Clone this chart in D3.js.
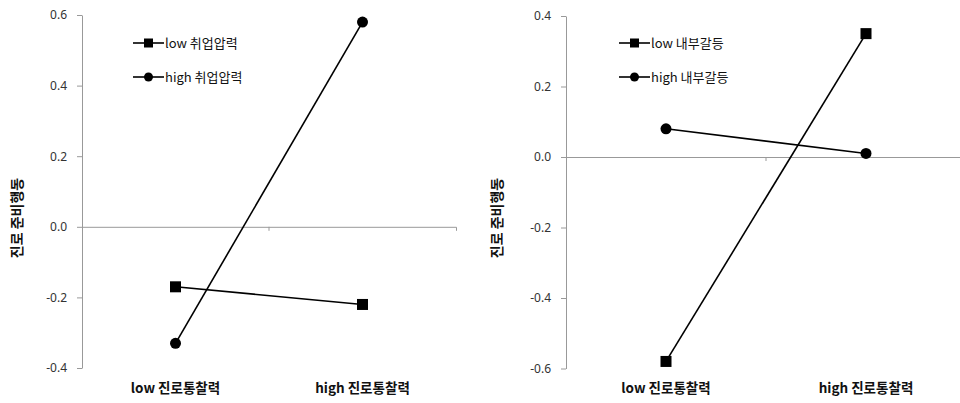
<!DOCTYPE html>
<html>
<head>
<meta charset="utf-8">
<script src="https://cdnjs.cloudflare.com/ajax/libs/d3/7.8.5/d3.min.js"></script>
<style>
  body { margin: 0; background: #fff; }
  svg text { font-family: "Noto Sans CJK KR", "Noto Sans", sans-serif; }
</style>
</head>
<body>
<div id="chart"></div>
<script>
// data
var categories = ["low 진로통찰력", "high 진로통찰력"];
var yLabel = "진로 준비행동";

var left_series = ["low 취업압력", "high 취업압력"];
var left_low = [-0.17, -0.22];
var left_high = [-0.33, 0.58];
var left_ticks = [-0.4, -0.2, 0.0, 0.2, 0.4, 0.6];

var right_series = ["low 내부갈등", "high 내부갈등"];
var right_low = [-0.58, 0.35];
var right_high = [0.08, 0.01];
var right_ticks = [-0.6, -0.4, -0.2, 0.0, 0.2, 0.4];

var svg = d3.select("#chart").append("svg")
  .attr("width", 960)
  .attr("height", 403);

function panel(opt) {
  var g = svg.append("g");

  var x = d3.scaleBand()
    .domain(categories)
    .range([opt.x0, opt.x1]);

  var y = d3.scaleLinear()
    .domain(d3.extent(opt.ticks))
    .range([opt.yBottom, opt.yTop]);

  // y axis
  var yAxis = g.append("g")
    .attr("transform", "translate(" + opt.x0 + ",0)")
    .call(d3.axisLeft(y).tickValues(opt.ticks).tickSize(5).tickSizeOuter(0));
  yAxis.select(".domain").attr("stroke", "#999");
  yAxis.selectAll(".tick line").attr("stroke", "#999");
  yAxis.selectAll(".tick text")
    .attr("x", -15)
    .attr("fill", "#333")
    .style("font-size", "12px")
    .style("font-family", "Noto Sans, sans-serif")
    .text(function (d) { return d3.format(".1f")(d).replace("−", "-"); });

  // zero line with category tick
  var xAxis = g.append("g")
    .attr("transform", "translate(0," + y(0) + ")")
    .call(d3.axisBottom(x).tickSize(4).tickSizeOuter(4).tickFormat(""));
  xAxis.select(".domain").attr("stroke", "#999");
  xAxis.selectAll(".tick line").remove();
  xAxis.append("line")
    .attr("x1", opt.x0 + (opt.x1 - opt.x0) / 2)
    .attr("x2", opt.x0 + (opt.x1 - opt.x0) / 2)
    .attr("y1", 0).attr("y2", 4)
    .attr("stroke", "#999");

  // category labels
  g.selectAll(".cat")
    .data(categories)
    .enter().append("text")
    .attr("x", function (d) { return x(d) + x.bandwidth() / 2; })
    .attr("y", 393)
    .attr("text-anchor", "middle")
    .attr("fill", "#111")
    .style("font-size", "13.5px")
    .style("font-weight", "bold")
    .text(function (d) { return d; });

  // y label
  g.append("text")
    .attr("transform", "translate(" + opt.labelX + ",218) rotate(-90)")
    .attr("text-anchor", "middle")
    .attr("fill", "#111")
    .style("font-size", "14px")
    .style("font-weight", "bold")
    .text(yLabel);

  var line = d3.line()
    .x(function (d, i) { return x(categories[i]) + x.bandwidth() / 2; })
    .y(function (d) { return y(d); });

  [opt.low, opt.high].forEach(function (vals, s) {
    g.append("path")
      .datum(vals)
      .attr("d", line)
      .attr("fill", "none")
      .attr("stroke", "#000")
      .attr("stroke-width", 1.6);

    if (s === 0) {
      g.selectAll(".sq" + s)
        .data(vals)
        .enter().append("rect")
        .attr("x", function (d, i) { return x(categories[i]) + x.bandwidth() / 2 - 5.5; })
        .attr("y", function (d) { return y(d) - 5.5; })
        .attr("width", 11).attr("height", 11)
        .attr("fill", "#000");
    } else {
      g.selectAll(".ci" + s)
        .data(vals)
        .enter().append("circle")
        .attr("cx", function (d, i) { return x(categories[i]) + x.bandwidth() / 2; })
        .attr("cy", function (d) { return y(d); })
        .attr("r", 5.5)
        .attr("fill", "#000");
    }
  });

  // legend
  opt.series.forEach(function (name, s) {
    var ly = opt.legY + s * 34;
    g.append("line")
      .attr("x1", opt.legX).attr("x2", opt.legX + 31)
      .attr("y1", ly).attr("y2", ly)
      .attr("stroke", "#000").attr("stroke-width", 1.6);
    if (s === 0) {
      g.append("rect")
        .attr("x", opt.legX + 15.5 - 4.5).attr("y", ly - 4.5)
        .attr("width", 9).attr("height", 9).attr("fill", "#000");
    } else {
      g.append("circle")
        .attr("cx", opt.legX + 15.5).attr("cy", ly)
        .attr("r", 4.5).attr("fill", "#000");
    }
    g.append("text")
      .attr("x", opt.legX + 32)
      .attr("y", ly)
      .attr("dy", "0.35em")
      .attr("fill", "#111")
      .style("font-size", "13px")
      .text(name);
  });
}

panel({
  x0: 82, x1: 456, yTop: 15, yBottom: 368, labelX: 22,
  ticks: left_ticks, low: left_low, high: left_high, series: left_series,
  legX: 133, legY: 43
});

panel({
  x0: 566, x1: 966, yTop: 16, yBottom: 368.5, labelX: 502,
  ticks: right_ticks, low: right_low, high: right_high, series: right_series,
  legX: 619, legY: 43
});
</script>
</body>
</html>
